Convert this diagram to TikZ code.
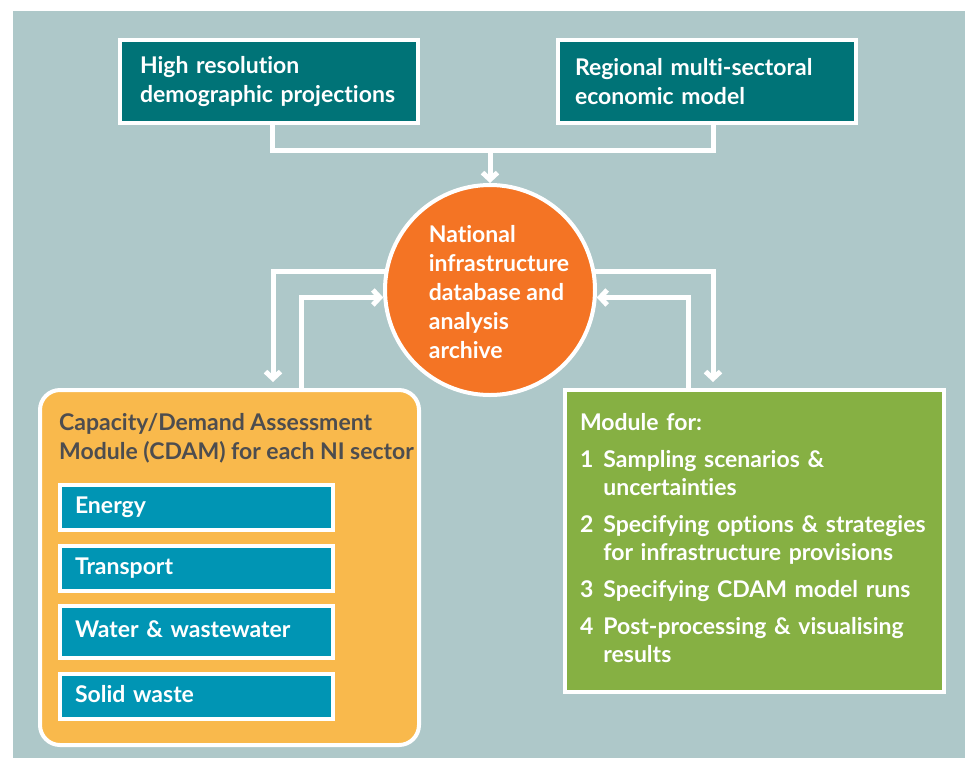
\documentclass[tikz,border=0pt]{standalone}
\usepackage{fontspec}
\setmainfont{Lato}[Ligatures=NoCommon]
\usetikzlibrary{arrows.meta}
\definecolor{bgblue}{RGB}{174,200,201}
\definecolor{darkteal}{RGB}{0,115,119}
\definecolor{hubor}{RGB}{244,116,36}
\definecolor{cdamyel}{RGB}{249,185,76}
\definecolor{sectblue}{RGB}{0,149,180}
\definecolor{modgreen}{RGB}{134,176,67}
\definecolor{greytxt}{RGB}{77,77,79}

\begin{document}
\begin{tikzpicture}[x=1pt,y=-1pt,
  txt/.style={font=\bfseries\fontsize{23}{29}\selectfont},
  topbox/.style={txt,rectangle,fill=darkteal,draw=white,line width=4pt,text=white,
    minimum width=298pt,minimum height=83pt,text width=264pt,inner xsep=17pt,align=left},
  sector/.style={txt,rectangle,fill=sectblue,draw=white,line width=4pt,text=white,
    minimum width=273pt,text width=243pt,inner xsep=15pt,text height=16pt,text depth=5pt,align=left},
  link/.style={white,line width=5pt},
  >={Straight Barb[length=7pt,width=15pt]}]

  \fill[bgblue] (13,11) rectangle (965,758);
  \useasboundingbox (0,0) rectangle (965,758);

  % inputs
  \node (demo) at (269,81.5) [topbox] {\hspace*{3pt}High resolution\\\hspace*{3pt}demographic projections};
  \node (econ) at (707,81.5) [topbox] {Regional multi-sectoral\\economic model};

  % hub
  \node (nida) at (490,290) [circle,fill=hubor,draw=white,line width=4pt,minimum size=210pt] {};
  \node at (499,292) [txt,text=white,align=left] {National\\infrastructure\\database and\\analysis\\archive};

  % capacity/demand module
  \node (cdam) at (229.5,567.5) [rectangle,rounded corners=20pt,fill=cdamyel,draw=white,line width=4pt,
    minimum width=379pt,minimum height=355pt] {};
  \node at (59,413) [txt,text=greytxt,anchor=north west,inner sep=0pt,align=left]
    {Capacity/Demand Assessment\\Module (CDAM) for each NI sector};
  \node (energy) at (196.5,507.5) [sector,minimum height=45pt] {Energy};
  \node (trans) at (196.5,568.5) [sector,minimum height=45pt] {Transport};
  \node (water) at (196.5,632) [sector,minimum height=52pt] {Water \& wastewater};
  \node (solid) at (196.5,696.5) [sector,minimum height=45pt] {Solid waste};

  % other modules
  \node (mods) at (754.5,541) [rectangle,fill=modgreen,draw=white,line width=4pt,text=white,
    minimum width=379pt,minimum height=302pt,text width=349pt,inner xsep=15pt,align=left,
    font=\bfseries\fontsize{23}{28}\selectfont]
    {\begin{tabular}{@{}l@{\hspace{10pt}}l@{}}
      \multicolumn{2}{@{}l@{}}{Module for:}\\[9pt]
      1 & Sampling scenarios \&\\
        & uncertainties\\[9pt]
      2 & Specifying options \& strategies\\
        & for infrastructure provisions\\[9pt]
      3 & Specifying CDAM model runs\\[9pt]
      4 & Post-processing \& visualising\\
        & results
    \end{tabular}};

  \coordinate (join) at (490,150);

  \draw[link] ([xshift=3pt]demo.south) |- (join) -| ([xshift=6pt]econ.south);
  \draw[link,->] (join) -- (nida);
  \draw[link,->] (nida.170) -| ([xshift=43.5pt,yshift=6pt]cdam.north);
  \draw[link,->] ([xshift=71.5pt]cdam.north) |- (nida.184);
  \draw[link,->] (nida.10) -| ([xshift=-41.5pt,yshift=6pt]mods.north);
  \draw[link,->] ([xshift=-66.5pt]mods.north) |- (nida.-4);

\end{tikzpicture}
\end{document}
